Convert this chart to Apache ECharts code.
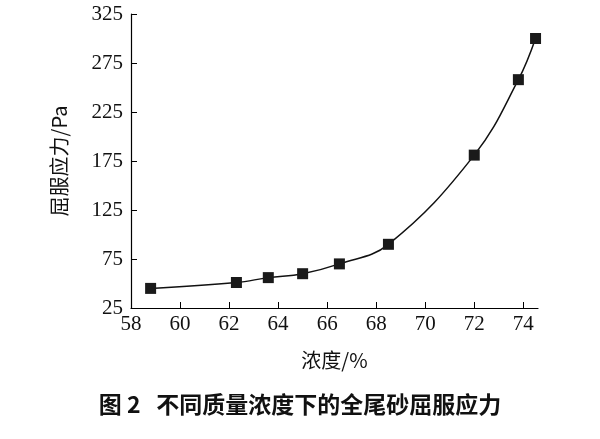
<!DOCTYPE html><html><head><meta charset="utf-8"><script src="https://cdn.jsdelivr.net/npm/echarts@6/dist/echarts.min.js"></script>
<style>body{margin:0;background:#fff}#c{width:600px;height:439px}</style></head><body><div id="c"></div><script>
const concentration=[58.8,62.3,63.6,65.0,66.5,68.5,72.0,73.8,74.5];
const yieldStress=[45,51,56,60,70,90,181,258,300];
const xTicks=[58,60,62,64,66,68,70,72,74];
const yTicks=[25,75,125,175,225,275,325];
const serif='"Liberation Serif","DejaVu Serif",serif';
const ch=echarts.init(document.getElementById('c'));
ch.setOption({
 animation:false,
 grid:{left:131,right:62,top:14,bottom:131},
 xAxis:{type:'value',min:58,max:74.6,interval:2,
  axisLine:{lineStyle:{color:'#000',width:1.2}},
  axisTick:{inside:true,length:6,lineStyle:{color:'#000'},customValues:xTicks},
  axisLabel:{color:'#111',fontSize:21,fontFamily:serif,margin:6,customValues:xTicks},
  splitLine:{show:false},
  name:'浓度/%',nameLocation:'middle',nameGap:42,nameTextStyle:{color:'#111',fontSize:20,fontFamily:'"Noto Sans CJK SC",serif'}},
 yAxis:{type:'value',min:25,max:325,interval:50,
  axisLine:{show:true,lineStyle:{color:'#000',width:1.2}},
  axisTick:{show:true,inside:true,length:6,lineStyle:{color:'#000'}},
  axisLabel:{color:'#111',fontSize:21,fontFamily:serif,margin:8,customValues:yTicks},
  splitLine:{show:false},
  name:'屈服应力/Pa',nameLocation:'middle',nameGap:62,nameTextStyle:{color:'#111',fontSize:20,fontFamily:'"Noto Sans CJK SC",serif'}},
 graphic:[{type:'text',left:'center',top:393,style:{text:'图 2   不同质量浓度下的全尾砂屈服应力',fill:'#111',font:'bold 23px "Noto Sans CJK SC",sans-serif'}}],
 series:[{type:'line',smooth:0.4,clip:false,data:concentration.map((x,i)=>[x,yieldStress[i]]),
  symbol:'rect',symbolSize:11,lineStyle:{color:'#111',width:1.5},itemStyle:{color:'#1a1a1a'}}]
});
</script></body></html>
